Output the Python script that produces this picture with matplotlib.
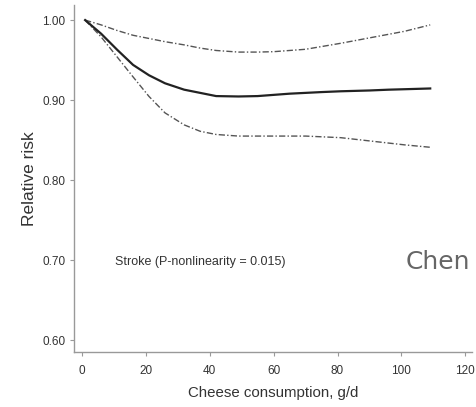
import matplotlib
matplotlib.use("Agg")
import matplotlib.pyplot as plt

# values
x_main = [1, 6, 11, 16, 21, 26, 32, 37, 42, 49, 55, 65, 75, 81, 90, 96, 103, 109]
rr_main = [1.0, 0.983, 0.963, 0.944, 0.931, 0.921, 0.913, 0.909, 0.905, 0.9045,
           0.905, 0.908, 0.910, 0.911, 0.912, 0.913, 0.9138, 0.9145]

x_upper = [1, 6, 11, 16, 21, 26, 32, 37, 42, 49, 55, 60, 70, 81, 91, 101, 109]
rr_upper = [1.0, 0.994, 0.987, 0.981, 0.977, 0.973, 0.969, 0.965, 0.962, 0.960,
            0.960, 0.9605, 0.9635, 0.971, 0.9785, 0.986, 0.994]

x_lower = [1, 6, 11, 16, 21, 26, 32, 37, 42, 49, 60, 70, 81, 91, 101, 109]
rr_lower = [1.0, 0.979, 0.954, 0.929, 0.9045, 0.884, 0.869, 0.861, 0.857, 0.855,
            0.855, 0.855, 0.853, 0.8485, 0.844, 0.841]

x_ticks = [0, 20, 40, 60, 80, 100, 120]
y_ticks = [0.60, 0.70, 0.80, 0.90, 1.00]

font = ["Liberation Sans", "DejaVu Sans"]

fig = plt.figure(figsize=(4.77, 4.07), dpi=100)
ax = fig.add_axes([0.155, 0.135, 0.834, 0.853])

dash = (0, (4.5, 1.6, 1, 1.6))
ax.plot(x_upper, rr_upper, color="#555555", lw=1.0, linestyle=dash)
ax.plot(x_lower, rr_lower, color="#555555", lw=1.0, linestyle=dash)
ax.plot(x_main, rr_main, color="#222222", lw=1.6)

ax.set_xlim(-2.5, 122)
ax.set_ylim(0.585, 1.019)
ax.set_xticks(x_ticks)
ax.set_yticks(y_ticks)
ax.set_xticklabels([str(t) for t in x_ticks], family=font, fontsize=8.5, color="#333333")
ax.set_yticklabels(["%.2f" % t for t in y_ticks], family=font, fontsize=8.5, color="#333333")

for s in ["top", "right"]:
    ax.spines[s].set_visible(False)
for s in ["left", "bottom"]:
    ax.spines[s].set_color("#999999")
    ax.spines[s].set_linewidth(1.0)
ax.tick_params(length=3, width=0.8, color="#999999")
ax.tick_params(axis="x", pad=6)
ax.tick_params(axis="y", pad=3)

ax.set_ylabel("Relative risk", family=font, fontsize=12.5, color="#333333", labelpad=4)
ax.set_xlabel("Cheese consumption, g/d", family=font, fontsize=10.8, color="#333333", labelpad=7)

ax.text(10.3, 0.698, "Stroke (P-nonlinearity = 0.015)", family=font, fontsize=9,
        color="#333333", va="center", ha="left")

fig.text(0.851, 0.357, "Chen", family="DejaVu Sans", fontsize=18, color="#666666",
         va="center", ha="left")

fig.savefig("out.png", dpi=100)
